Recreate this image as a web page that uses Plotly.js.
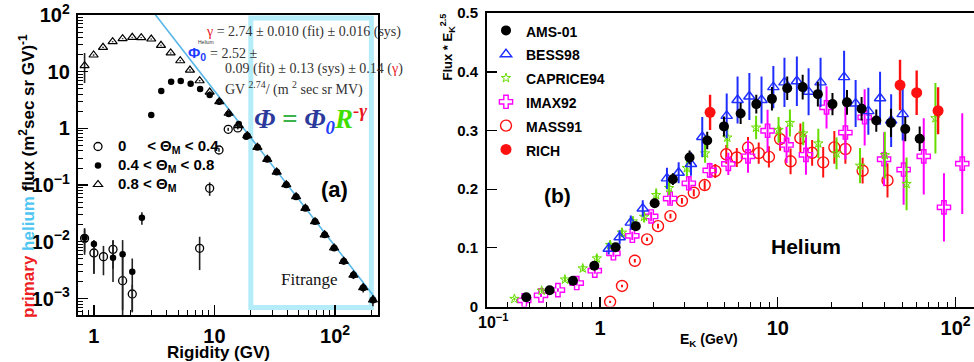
<!DOCTYPE html>
<html><head><meta charset="utf-8">
<script src="https://cdn.plot.ly/plotly-3.0.1.min.js"></script>
<style>html,body{margin:0;padding:0;background:#fff}#chart{width:974px;height:362px}</style>
</head><body><div id="chart"></div>
<script>
// ===== Panel (a): primary helium flux vs rigidity (GV) =====
// 0 < ThetaM < 0.4 (open circles)
const openR  = [0.837, 1.0, 1.2, 1.44, 1.73, 2.08, 7.53, 9.12, 10.9, 13.0, 15.6];
const openF  = [0.0115, 0.00634, 0.00547, 0.00736, 0.00206, 0.0012, 0.00767, 0.0877, 0.416, 0.964, 1.02];
const openUp = [0.005, 0.0037, 0.003, 0.003, 0.004, 0.00054, 0.0046, 0.024, 0.03, 0.06, 0.06];
const openDn = [0.005, 0.0036, 0.0029, 0.004, 0.00195, 0.00061, 0.0045, 0.023, 0.03, 0.06, 0.06];
// 0.4 < ThetaM < 0.8 (filled circles)
const fillR  = [0.837, 1.0, 1.44, 1.73, 2.08, 2.5, 2.99, 3.62, 4.37, 5.25, 6.34, 7.6, 9.12, 10.96, 13.1, 15.9, 18.3];
const fillF  = [0.0118, 0.00914, 0.00525, 0.00603, 0.00297, 0.0266, 1.72, 4.57, 6.67, 6.86, 6.14, 4.95, 3.88, 2.96, 1.8, 1.2, 0.71];
const fillUp = [0.0056, 0.0016, 0.0055, 0.0047, 0.0021, 0.0065, 0.08, 0.2, 0.3, 0.3, 0.25, 0.2, 0.15, 0.12, 0.08, 0.06, 0.04];
const fillDn = [0.0059, 0.0064, 0.0033, 0.0054, 0.0024, 0.0066, 0.08, 0.2, 0.3, 0.3, 0.25, 0.2, 0.15, 0.12, 0.08, 0.06, 0.04];
// 0.8 < ThetaM (open triangles)
const triR  = [0.837, 0.994, 1.19, 1.43, 1.73, 2.08, 2.47, 2.99, 3.6, 4.33, 5.2, 6.26, 7.53, 9.12, 10.96, 13.1, 15.9];
const triF  = [12.8, 19.7, 26.9, 33.8, 38.2, 40.4, 39.8, 37.7, 29.2, 21.4, 15.6, 10.7, 6.93, 4.38, 2.96, 1.85, 1.12];
const triUp = [8.6, 0.6, 0.7, 0.8, 0.8, 0.8, 0.8, 0.8, 0.6, 0.5, 0.4, 0.3, 0.2, 0.15, 0.1, 0.07, 0.05];
const triDn = [6.5, 0.6, 0.7, 0.8, 0.8, 0.8, 0.8, 0.8, 0.6, 0.5, 0.4, 0.3, 0.2, 0.15, 0.1, 0.07, 0.05];
// high-rigidity points common to all three bins
const hiR   = [18.7, 22.7, 27.4, 32.8, 39.4, 47.5, 56.7, 68.2, 82, 98.1, 118, 142, 171, 206];
const hiF   = [0.743, 0.464, 0.285, 0.170, 0.1016, 0.0624, 0.039, 0.0227, 0.0133, 0.00778, 0.00453, 0.00259, 0.00155, 0.00094];
const hiErr = [0.045, 0.028, 0.017, 0.012, 0.0071, 0.005, 0.0031, 0.002, 0.0013, 0.00086, 0.00059, 0.00039, 0.00028, 0.00021];
// power-law fit  Phi = Phi0 * R^-gamma  (Phi0 = 2.52 /MV = 2520 /GV)
const fitGamma = 2.74;
const fitPhi0  = 2520;
const fitR     = [3.0, 215];
const fitRange = [20, 200];

// ===== Panel (b): Flux * E_K^2.5 vs E_K (GeV) =====
const amsE = [0.385, 0.521, 0.705, 0.929, 1.225, 1.59, 2.03, 2.57, 3.19, 4.01, 4.98, 6.18, 7.57, 9.27, 11.3, 13.8, 16.8, 20.3, 24.5, 29.6, 35.8, 43.3, 52.1, 62.8];
const amsV = [0.0157, 0.0276, 0.044, 0.0695, 0.101, 0.137, 0.176, 0.217, 0.254, 0.283, 0.307, 0.329, 0.345, 0.354, 0.372, 0.374, 0.362, 0.345, 0.348, 0.337, 0.317, 0.313, 0.3025, 0.286];
const amsErr = [0.003, 0.003, 0.004, 0.005, 0.006, 0.007, 0.008, 0.01, 0.012, 0.015, 0.017, 0.018, 0.016, 0.02, 0.02, 0.021, 0.021, 0.019, 0.021, 0.02, 0.019, 0.024, 0.021, 0.021];

const bessE = [1.12, 1.29, 1.49, 1.74, 2.38, 2.77, 3.25, 3.76, 5.16, 5.94, 6.92, 8.1, 9.44, 10.9, 12.8, 14.9, 17.4, 23.6, 27.4, 32.3, 37.6, 43.4, 50.4];
const bessV = [0.0985, 0.118, 0.143, 0.167, 0.2185, 0.228, 0.243, 0.289, 0.325, 0.352, 0.358, 0.352, 0.374, 0.382, 0.384, 0.366, 0.382, 0.391, 0.346, 0.333, 0.355, 0.317, 0.328];
const bessErr = [0.01, 0.012, 0.012, 0.014, 0.018, 0.018, 0.02, 0.034, 0.038, 0.04, 0.04, 0.04, 0.036, 0.042, 0.042, 0.04, 0.042, 0.045, 0.04, 0.04, 0.045, 0.045, 0.045];

const capE = [0.33, 0.47, 0.635, 0.8, 0.96, 1.14, 1.33, 1.53, 1.77, 2.07, 2.45, 3.08, 3.9, 5.2, 7.55, 10.1, 11.7, 13.9, 16.9, 21.4, 29, 40, 53, 77];
const capV = [0.013, 0.027, 0.046, 0.065, 0.082, 0.105, 0.126, 0.145, 0.153, 0.19, 0.202, 0.236, 0.261, 0.288, 0.305, 0.301, 0.313, 0.295, 0.278, 0.261, 0.24, 0.258, 0.209, 0.321];
const capErr = [0.002, 0.003, 0.004, 0.005, 0.006, 0.007, 0.008, 0.009, 0.01, 0.011, 0.012, 0.014, 0.016, 0.018, 0.02, 0.022, 0.023, 0.02, 0.025, 0.027, 0.03, 0.04, 0.045, 0.06];

const imaxE = [0.375, 0.466, 0.58, 0.74, 0.935, 1.19, 1.52, 1.94, 2.48, 3.16, 4.14, 5.27, 6.8, 8.76, 11.2, 14.4, 18.8, 24.0, 30.8, 39.6, 51.0, 66.2, 86.0, 109];
const imaxV = [0.0105, 0.019, 0.028, 0.040, 0.061, 0.0907, 0.1205, 0.1535, 0.184, 0.21, 0.232, 0.243, 0.256, 0.2996, 0.2755, 0.2585, 0.3395, 0.2965, 0.3225, 0.251, 0.2335, 0.256, 0.169, 0.2435];
const imaxErr = [0.003, 0.003, 0.003, 0.004, 0.005, 0.006, 0.007, 0.008, 0.01, 0.012, 0.013, 0.019, 0.028, 0.036, 0.031, 0.034, 0.036, 0.046, 0.048, 0.046, 0.06, 0.065, 0.058, 0.086];

const massE = [1.14, 1.33, 1.57, 1.84, 2.12, 2.49, 2.89, 3.37, 3.88, 4.45, 5.13, 5.88, 6.8, 7.81, 8.91, 10.3, 11.8, 13.4, 15.6, 18.0, 20.8, 24.0, 30.0, 41.4];
const massV = [0.008, 0.035, 0.078, 0.1145, 0.137, 0.154, 0.18, 0.194, 0.207, 0.231, 0.2595, 0.254, 0.271, 0.2615, 0.255, 0.2855, 0.2475, 0.287, 0.262, 0.2457, 0.2713, 0.2685, 0.2315, 0.215];
const massErr = [0.002, 0.002, 0.003, 0.003, 0.004, 0.004, 0.005, 0.006, 0.008, 0.012, 0.016, 0.016, 0.018, 0.018, 0.018, 0.02, 0.022, 0.025, 0.022, 0.026, 0.028, 0.025, 0.022, 0.029];

const richE = [4.16, 48.7, 60.4, 79.7];
const richV = [0.331, 0.3775, 0.3645, 0.3337];
const richErr = [0.03, 0.043, 0.038, 0.04];

// ===== helpers =====
const W = 974, H = 362;
const px = v => v / W;          // pixel -> paper x
const py = v => 1 - v / H;      // pixel -> paper y
const SANS = 'Liberation Sans, Arial, sans-serif';
const SERIF = 'Liberation Serif, Times New Roman, serif';
const sp = (s, size) => `<span style="font-size:${size}px">${s}</span>`;

const errL = (up, dn, color, th) => ({type: 'data', symmetric: false, array: up, arrayminus: dn, color: color, thickness: th, width: 0});
const errS = (arr, color, th) => ({type: 'data', array: arr, color: color, thickness: th, width: 0});

const traces = [];
// --- panel (a)
traces.push({x: fitR, y: fitR.map(r => fitPhi0 * Math.pow(r, -fitGamma)), xaxis: 'x', yaxis: 'y', mode: 'lines',
  line: {color: '#58b6e6', width: 1.6}, showlegend: false, hoverinfo: 'skip'});
traces.push({x: openR, y: openF, xaxis: 'x', yaxis: 'y', mode: 'markers', name: sp('0\u00a0\u00a0\u00a0\u00a0\u00a0< \u0398<sub>M</sub> < 0.4', 15), legend: 'legend',
  marker: {symbol: 'circle-open', size: 8, color: '#000', line: {width: 1.3, color: '#000'}}, error_y: errL(openUp, openDn, '#222', 1.6)});
traces.push({x: fillR, y: fillF, xaxis: 'x', yaxis: 'y', mode: 'markers', name: sp('0.4 < \u0398<sub>M</sub> < 0.8', 15), legend: 'legend',
  marker: {symbol: 'circle', size: 6.5, color: '#000'}, error_y: errL(fillUp, fillDn, '#222', 1.6)});
traces.push({x: triR, y: triF, xaxis: 'x', yaxis: 'y', mode: 'markers', name: sp('0.8 < \u0398<sub>M</sub>', 15), legend: 'legend',
  marker: {symbol: 'triangle-up-open', size: 8, color: '#000', line: {width: 1.2, color: '#000'}}, error_y: errL(triUp, triDn, '#222', 1.6)});
traces.push({x: hiR, y: hiF, xaxis: 'x', yaxis: 'y', mode: 'markers', showlegend: false,
  marker: {symbol: 'triangle-up-open', size: 8, color: '#000', line: {width: 1.2, color: '#000'}}, error_y: errS(hiErr, '#222', 1.6)});
traces.push({x: hiR, y: hiF, xaxis: 'x', yaxis: 'y', mode: 'markers', showlegend: false,
  marker: {symbol: 'circle', size: 7, color: '#000'}});

// --- panel (b) (drawing order differs from legend order)
const L2 = {xaxis: 'x2', yaxis: 'y2', mode: 'markers', legend: 'legend2'};
traces.push(Object.assign({x: massE, y: massV, name: sp('MASS91', 14), legendrank: 5,
  marker: {symbol: 'circle-open', size: 11, color: '#ff1010', line: {width: 1.4, color: '#ff1010'}}, error_y: errS(massErr, '#ff1010', 2)}, L2));
traces.push(Object.assign({x: imaxE, y: imaxV, name: sp('IMAX92', 14), legendrank: 4,
  marker: {symbol: 'cross-open', size: 11, color: '#ff00ff', line: {width: 1.4, color: '#ff00ff'}}, error_y: errS(imaxErr, '#ff00ff', 2)}, L2));
traces.push(Object.assign({x: capE, y: capV, name: sp('CAPRICE94', 14), legendrank: 3,
  marker: {symbol: 'star-open', size: 7, color: '#66dd00', line: {width: 1, color: '#66dd00'}}, error_y: errS(capErr, '#66dd00', 2)}, L2));
traces.push(Object.assign({x: bessE, y: bessV, name: sp('BESS98', 14), legendrank: 2,
  marker: {symbol: 'triangle-up-open', size: 10, color: '#1f2eff', line: {width: 1.4, color: '#1f2eff'}}, error_y: errS(bessErr, '#1f2eff', 2)}, L2));
traces.push(Object.assign({x: amsE, y: amsV, name: sp('AMS-01', 14), legendrank: 1,
  marker: {symbol: 'circle', size: 10, color: '#000'}, error_y: errS(amsErr, '#000', 2)}, L2));
traces.push(Object.assign({x: richE, y: richV, name: sp('RICH', 14), legendrank: 6,
  marker: {symbol: 'circle', size: 11, color: '#ff1010'}, error_y: errS(richErr, '#ff1010', 2.4)}, L2));

const tickFont = {family: SANS, size: 16, weight: 'bold', color: '#000'};
const logAxis = (domain, range, anchor) => ({
  domain: domain, type: 'log', range: range, anchor: anchor,
  showline: true, linewidth: 2, linecolor: '#000', mirror: true,
  ticks: 'inside', ticklen: 10, tickwidth: 1.3, tickcolor: '#000',
  tickmode: 'linear', tick0: 0, dtick: 1, exponentformat: 'power',
  minor: {ticks: 'inside', ticklen: 5, tickwidth: 1, tickcolor: '#000', dtick: 'D1', showgrid: false},
  showgrid: false, zeroline: false, tickfont: tickFont, ticklabelstandoff: 3
});

const xa = logAxis([px(78), px(378)], [Math.log10(0.738), Math.log10(227)], 'y');
const ya = logAxis([py(315), py(15)], [-3.291, 2], 'x');
const xb = logAxis([px(487), 1], [Math.log10(0.2315), Math.log10(126.9)], 'y2');
const yb = {domain: [py(306.5), py(13.2)], range: [0, 0.5], anchor: 'x2',
  showline: true, linewidth: 2, linecolor: '#000', mirror: false,
  ticks: 'inside', ticklen: 10, tickwidth: 1.3, tickcolor: '#000', dtick: 0.1, tick0: 0,
  showgrid: false, zeroline: false, tickfont: {family: SANS, size: 15, weight: 'bold', color: '#000'}, ticklabelstandoff: 4};
xb.mirror = true;

const ann = (x, y, text, opts) => Object.assign({xref: 'paper', yref: 'paper', x: px(x), y: py(y), text: text, showarrow: false,
  xanchor: 'center', yanchor: 'middle'}, opts || {});
const serif14 = {family: SERIF, size: 14, color: '#333'};
const RED = '#e8141e';

const annotations = [
  ann(27, 176, '<span style="color:#ee1c24">primary</span> <span style="color:#4fc6f2">helium</span> flux (m<sup>2</sup>sec sr GV)<sup>-1</sup>',
    {textangle: -90, font: {family: SANS, size: 17, weight: 'bold', color: '#000'}}),
  ann(218, 352.5, 'Rigidity (GV)', {font: {family: SANS, size: 17, weight: 'bold', color: '#000'}}),
  ann(447, 12, 'Flux * E<sub>K</sub><sup>2.5</sup>', {textangle: -90, yanchor: 'top', font: {family: SANS, size: 13, weight: 'bold', color: '#000'}}),
  ann(709, 340, 'E<sub>K</sub> (GeV)', {font: {family: SANS, size: 14, weight: 'bold', color: '#000'}}),
  ann(204, 32, `<span style="color:${RED}">\u03b3</span> = 2.74 \u00b1 0.010 (fit) \u00b1 0.016 (sys)`, {xanchor: 'left', font: serif14}),
  ann(186, 54, '\u03a6<sub>0</sub>', {xanchor: 'left', font: {family: SANS, size: 15, weight: 'bold', color: '#1e3cff'}}),
  ann(196, 42, 'Helium', {xanchor: 'left', font: {family: SANS, size: 5, color: '#333'}}),
  ann(208, 53, '= 2.52 \u00b1', {xanchor: 'left', font: serif14}),
  ann(223, 69, `0.09 (fit) \u00b1 0.13 (sys) \u00b1 0.14 (<span style="color:${RED}">\u03b3</span>)`, {xanchor: 'left', font: serif14}),
  ann(223, 88, 'GV <sup>2.74</sup>/ (m <sup>2</sup> sec sr MV)', {xanchor: 'left', font: serif14}),
  ann(310, 119, '<span style="color:#2b3a9b">\u03a6</span> <span style="color:#3cb44b">=</span> <span style="color:#2b3a9b">\u03a6</span><sub><span style="color:#2040ff">0</span></sub><span style="color:#3fe000">R</span><sup><span style="color:' + RED + '">-\u03b3</span></sup>',
    {font: {family: SERIF, size: 27, weight: 'bold', style: 'italic', color: '#2b3a9b'}}),
  ann(334, 189, '(a)', {font: {family: SANS, size: 22, weight: 'bold', color: '#000'}}),
  ann(309, 279, 'Fitrange', {font: {family: SERIF, size: 17, color: '#111'}}),
  ann(557, 195, '(b)', {font: {family: SANS, size: 21, weight: 'bold', color: '#000'}}),
  ann(806, 246, 'Helium', {font: {family: SANS, size: 21, weight: 'bold', color: '#000'}}),
  ann(511, 321, '10<sup>\u22121</sup>', {xanchor: 'right', font: {family: SANS, size: 16, weight: 'bold', color: '#000'}})
];

const shapes = [{type: 'rect', xref: 'x', yref: 'y domain', x0: fitRange[0], x1: fitRange[1], y0: 0.025, y1: 0.99,
  line: {color: '#b4ecfa', width: 5}, fillcolor: 'rgba(0,0,0,0)', layer: 'below'}];

const layout = {
  width: W, height: H, margin: {l: 0, r: 0, t: 0, b: 0}, paper_bgcolor: '#fff', plot_bgcolor: '#fff',
  font: {family: SANS, color: '#000'},
  xaxis: xa, yaxis: ya, xaxis2: xb, yaxis2: yb,
  legend: {x: px(78), y: py(132), xanchor: 'left', yanchor: 'top', bgcolor: 'rgba(0,0,0,0)', borderwidth: 0,
    font: {family: SANS, size: 12, weight: 'bold', color: '#000'}, traceorder: 'normal', itemwidth: 30},
  legend2: {x: px(486), y: py(13.5), xanchor: 'left', yanchor: 'top', bgcolor: 'rgba(0,0,0,0)', borderwidth: 0,
    font: {family: SANS, size: 16, weight: 'bold', color: '#000'}, traceorder: 'normal', itemwidth: 30},
  annotations: annotations, shapes: shapes, showlegend: true
};

Plotly.newPlot('chart', traces, layout, {staticPlot: true, displayModeBar: false});
</script></body></html>
